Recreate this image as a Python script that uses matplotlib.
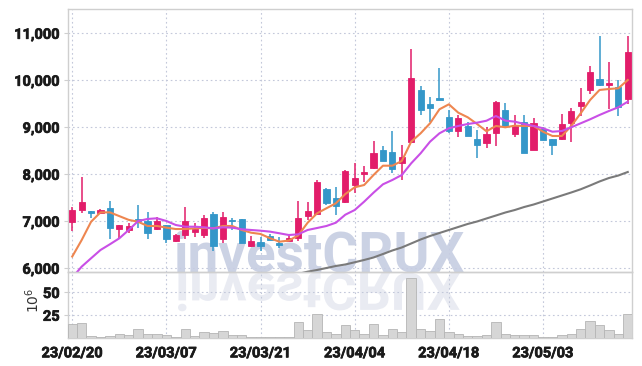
import matplotlib.pyplot as plt
import numpy as np
import matplotlib.patheffects as pe
from matplotlib.textpath import TextPath
from matplotlib.patches import PathPatch
from matplotlib.font_manager import FontProperties
from matplotlib.transforms import Affine2D, IdentityTransform

# trading days (yyyy-mm-dd)
dates = (
    ["2023-02-%02d" % d for d in [20, 21, 22, 23, 24, 27, 28]]
    + ["2023-03-%02d" % d for d in [2, 3, 6, 7, 8, 9, 10, 13, 14, 15, 16, 17, 20, 21,
                                    22, 23, 24, 27, 28, 29, 30, 31]]
    + ["2023-04-%02d" % d for d in [3, 4, 5, 6, 7, 10, 11, 12, 13, 14, 17, 18, 19, 20,
                                    21, 24, 25, 26, 27, 28]]
    + ["2023-05-%02d" % d for d in [2, 3, 4, 8, 9, 10, 11, 12, 15, 16, 17]]
)

opens = [6990, 7230, 7220, 7180, 7280, 6840, 6815, 7050, 7000, 6840,
         6920, 6575, 6700, 6780, 6700, 7160, 6620, 7020, 7050, 6475,
         6550, 6690, 6540, 6575, 6650, 7120, 7160, 7690, 7495, 7400,
         7780, 8015, 8140, 8510, 8475, 8245, 8680, 9785, 9490, 9625,
         9220, 8920, 9035, 8750, 8670, 8870, 9370, 8865, 9115, 8525,
         8955, 8745, 8760, 9100, 9455, 9800, 10020, 9905, 9855, 9610]
closes = [7240, 7400, 7180, 7240, 6860, 6920, 6900, 7010, 6760, 7000,
          6620, 6700, 7000, 6840, 7060, 6475, 7090, 7000, 6545, 6590,
          6480, 6600, 6500, 6650, 7070, 7225, 7845, 7395, 7330, 8070,
          7920, 8050, 8455, 8290, 8120, 8370, 10045, 9375, 9415, 9590,
          8920, 9200, 8820, 8630, 8850, 9530, 9035, 9040, 8455, 9085,
          8730, 8630, 9065, 9345, 9530, 10175, 9905, 9945, 9440, 10600]
highs = [7310, 7940, 7220, 7260, 7430, 6920, 6970, 7340, 7190, 7100,
         6920, 6730, 7300, 6970, 7130, 7190, 7190, 7065, 7050, 6680,
         6670, 6730, 6660, 6730, 7430, 7400, 7870, 7700, 7720, 8090,
         8235, 8180, 8700, 8610, 8915, 8630, 10670, 9880, 9650, 10255,
         9370, 9260, 9120, 8945, 9010, 9560, 9510, 9255, 9255, 9190,
         9010, 8745, 9275, 9405, 9845, 10300, 10940, 10385, 10015, 10950]
lows = [6790, 7170, 7060, 7160, 6630, 6620, 6760, 6860, 6630, 6815,
        6545, 6560, 6620, 6670, 6650, 6370, 6545, 6815, 6545, 6460,
        6375, 6600, 6425, 6575, 6575, 7030, 7160, 7350, 7135, 7380,
        7600, 7830, 8105, 8290, 8035, 7880, 8680, 9255, 9105, 9590,
        8885, 8800, 8820, 8340, 8555, 8610, 9035, 8800, 8455, 8525,
        8730, 8405, 8740, 8695, 9240, 9700, 9880, 9390, 9240, 9490]

# moving averages
ma_short = [6250, 6600, 6990, 7190, 7190, 7110, 7030, 6990, 6900, 6900,
            6865, 6835, 6835, 6850, 6860, 6850, 6900, 6900, 6815, 6757,
            6730, 6640, 6566, 6590, 6700, 6970, 7170, 7277, 7383, 7580,
            7723, 7772, 7985, 8183, 8183, 8283, 8694, 8872, 9085, 9383,
            9489, 9311, 9213, 9070, 8915, 9028, 9000, 9034, 9028, 9028,
            8906, 8815, 8815, 9028, 9298, 9581, 9794, 9815, 9830, 10006]
ma_mid = [5800, 6035, 6213, 6389, 6511, 6638, 6815, 7006, 7049, 7064,
          7006, 6921, 6885, 6885, 6872, 6850, 6872, 6864, 6830, 6815,
          6800, 6780, 6745, 6708, 6723, 6815, 6857, 6900, 6970, 7140,
          7240, 7417, 7609, 7787, 7879, 7985, 8234, 8447, 8694, 8872,
          8979, 9028, 9070, 9099, 9140, 9240, 9141, 9120, 9070, 9028,
          8979, 8906, 8921, 9000, 9085, 9170, 9262, 9347, 9426, 9545]
ma_long = [np.nan] * 24 + [
    5880, 5928, 5964, 6006, 6049, 6081, 6128, 6177, 6230, 6304, 6379, 6443,
    6528, 6613, 6687, 6751, 6815, 6879, 6943, 6996, 7060, 7123, 7187, 7240,
    7304, 7357, 7421, 7485, 7549, 7613, 7681, 7762, 7847, 7921, 7974, 8049]

# volume in millions
volumes = [15.8, 16.9, 2.5, 1.4, 2.5, 4.7, 3.6, 10.3, 4.7, 4.7,
           3.6, 1.4, 10.3, 2.5, 7.0, 5.8, 8.1, 3.6, 3.6, 1.4,
           1.4, 1.4, 1.4, 1.4, 18.0, 9.2, 26.9, 6.2, 4.7, 13.9,
           9.2, 4.7, 15.8, 3.6, 10.3, 7.0, 65.6, 10.3, 8.1, 21.3,
           7.0, 4.7, 2.5, 2.5, 3.6, 18.0, 4.7, 3.6, 3.6, 3.6,
           1.4, 1.4, 3.6, 4.7, 10.3, 19.1, 13.9, 9.2, 4.7, 26.9]

price_ticks = [6000, 7000, 8000, 9000, 10000, 11000]
vol_ticks = [25, 50]
tick_idx = [0, 10, 20, 30, 40, 50]

UP = "#e21d6a"
DOWN = "#3497c9"
GRID = "#c3c8da"
SPINE = "#cfcfcf"
TICK_FONT = ["Roboto", "DejaVu Sans"]

W, H = 642, 366
fig = plt.figure(figsize=(W / 100, H / 100), dpi=100, facecolor="white")
ax1 = fig.add_axes([68 / W, 1 - 272 / H, 564 / W, 263 / H])
ax2 = fig.add_axes([68 / W, 1 - 338 / H, 564 / W, 66 / H], sharex=ax1)
ax2.patch.set_alpha(0)

x = np.arange(len(dates))
o = np.array(opens, float)
c = np.array(closes, float)
colors = [UP if cc >= oo else DOWN for oo, cc in zip(o, c)]
bottoms = np.minimum(o, c)
heights = np.maximum(np.abs(c - o), 35)

ax1.vlines(x, lows, highs, colors=colors, linewidth=1.1, zorder=3)
ax1.bar(x, heights, bottom=bottoms, width=0.66, color=colors,
        edgecolor=colors, linewidth=0.6, zorder=4)
ax1.plot(x, ma_short, color="#ee8650", linewidth=1.5, zorder=5)
ax1.plot(x, ma_mid, color="#c94fe6", linewidth=1.5, zorder=5)
ax1.plot(x, ma_long, color="#7a7a7a", linewidth=1.5, zorder=5)

ax2.bar(x, volumes, width=1.0, color="#d6d6d6", edgecolor="#b5b5b5",
        linewidth=0.6, zorder=3)

ax1.set_xlim(-0.45, 59.45)
ax1.set_ylim(5921, 11517)
ax2.set_ylim(0, 72.5)

ax1.set_yticks(price_ticks)
ax1.set_yticklabels([f"{v:,}" for v in price_ticks])
ax2.set_yticks(vol_ticks)
ax2.set_xticks(tick_idx)
ax2.set_xticklabels([dates[i][2:].replace("-", "/") for i in tick_idx])
ax1.tick_params(axis="x", labelbottom=False, length=0)

for ax in (ax1, ax2):
    ax.set_axisbelow(True)
    ax.grid(True, color=GRID, linestyle=(0, (1.5, 2.5)), linewidth=0.8)
    for s in ax.spines.values():
        s.set_color(SPINE)
        s.set_linewidth(1.0)
    ax.tick_params(axis="y", length=3, color=SPINE, pad=3)
    ax.tick_params(axis="x", length=0, pad=6)
    for lab in ax.get_yticklabels() + ax.get_xticklabels():
        lab.set_family(TICK_FONT)
        lab.set_fontweight("bold")
        lab.set_fontsize(10.5)
        lab.set_color("#1a1a1a")
        lab.set_path_effects([pe.withStroke(linewidth=0.5, foreground="#1a1a1a")])

fig.text(33 / W, 1 - 300 / H, r"$10^6$", rotation=90, ha="center",
         va="center", fontsize=10, color="#333333")

# investCRUX watermark: real text, plus a mirrored copy as its reflection
ax1.text(319 / W, 1 - 271.5 / H, "investCRUX", transform=fig.transFigure,
         ha="center", va="baseline", fontsize=39.5, family=["Roboto", "DejaVu Sans"],
         fontweight="bold", color="#c6cde2", alpha=0.9, zorder=1, clip_on=False)

fp = FontProperties(family=["Roboto", "DejaVu Sans"], weight="bold")
tp = TextPath((0, 0), "investCRUX", size=100, prop=fp)
ext = tp.get_extents()
sx = (460 - 178) / ext.width
sy = (133.3 - 94.5) / ext.height
refl_tr = Affine2D().translate(-ext.x0, -ext.y0).scale(sx, -sy).translate(178, 93.5)
patch = PathPatch(refl_tr.transform_path(tp), facecolor="#e7e9f1", edgecolor="none",
                  transform=IdentityTransform(), zorder=1, alpha=0.9)
patch.set_clip_on(False)
ax1.add_artist(patch)

fig.savefig("out.png", dpi=100, facecolor="white")
